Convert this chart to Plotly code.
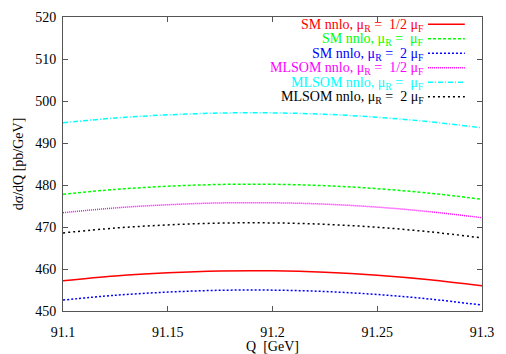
import plotly.graph_objects as go

q = [91.1, 91.125, 91.15, 91.175, 91.2, 91.225, 91.25, 91.275, 91.3]

sm_half = [457.2, 458.35, 459.1, 459.53, 459.57, 459.24, 458.53, 457.45, 456.0]
sm_one = [477.8, 478.95, 479.7, 480.13, 480.17, 479.84, 479.13, 478.05, 476.6]
sm_two = [452.6, 453.75, 454.5, 454.93, 454.97, 454.64, 453.93, 452.85, 451.4]
mlsom_half = [473.4, 474.55, 475.3, 475.73, 475.77, 475.44, 474.73, 473.65, 472.2]
mlsom_one = [494.8, 495.95, 496.7, 497.13, 497.17, 496.84, 496.13, 495.05, 493.6]
mlsom_two = [468.6, 469.75, 470.5, 470.93, 470.97, 470.64, 469.93, 468.85, 467.4]

labels = ["SM nnlo, μ<sub>R</sub> =  1/2 μ<sub>F</sub>",
          "SM nnlo, μ<sub>R</sub> =  μ<sub>F</sub>",
          "SM nnlo, μ<sub>R</sub> =  2 μ<sub>F</sub>",
          "MLSOM nnlo, μ<sub>R</sub> =  1/2 μ<sub>F</sub>",
          "MLSOM nnlo, μ<sub>R</sub> =  μ<sub>F</sub>",
          "MLSOM nnlo, μ<sub>R</sub> =  2 μ<sub>F</sub>"]
series = [sm_half, sm_one, sm_two, mlsom_half, mlsom_one, mlsom_two]
colors = ["#ff0000", "#00ff00", "#0000ff", "#ff00ff", "#00ffff", "#000000"]
dashes = ["solid", "3px,2px", "2px,2px", "1px,1px", "5px,2px,1px,2px", "2px,3px"]

font = "Liberation Serif"

fig = go.Figure()
for i, (lab, ys) in enumerate(zip(labels, series)):
    fig.add_trace(go.Scatter(x=q, y=ys, mode="lines", name=lab,
                             line=dict(color=colors[i], dash=dashes[i], width=1.5, shape="spline"),
                             showlegend=False))
    # gnuplot-style key: text right aligned, sample line on the right
    yk = 0.972 - i * 0.0493
    fig.add_annotation(x=0.866, y=yk, xref="paper", yref="paper", text=lab,
                       showarrow=False, xanchor="right", yanchor="middle",
                       font=dict(family=font, size=14, color=colors[i]))
    fig.add_shape(type="line", xref="paper", yref="paper", x0=0.871, x1=0.959, y0=yk + 0.003, y1=yk + 0.003,
                  line=dict(color=colors[i], dash=dashes[i], width=1.5))

axis_common = dict(showgrid=False, zeroline=False, showline=True, linecolor="#555555", linewidth=1,
                   mirror="ticks", ticks="inside", ticklen=5, tickcolor="#555555", automargin=False,
                   tickfont=dict(family=font, size=14, color="black"))

fig.update_xaxes(range=[91.1, 91.3], tickvals=[91.1, 91.15, 91.2, 91.25, 91.3],
                 ticktext=["91.1", "91.15", "91.2", "91.25", "91.3"], ticklabelstandoff=8,
                 title=dict(text="Q  [GeV]", font=dict(family=font, size=14, color="black"), standoff=22),
                 **axis_common)
fig.update_yaxes(range=[450, 520], dtick=10, ticklabelstandoff=3,
                 title=dict(text="dσ/dQ [pb/GeV]", font=dict(family=font, size=14, color="black"), standoff=8),
                 **axis_common)

fig.update_layout(width=506, height=354, plot_bgcolor="white", paper_bgcolor="white",
                  font=dict(family=font, size=14, color="black"),
                  margin=dict(l=63, r=24, t=17, b=43))
fig.write_html("out.html", config={"displayModeBar": False},
               post_script="document.body.style.margin='0';")
